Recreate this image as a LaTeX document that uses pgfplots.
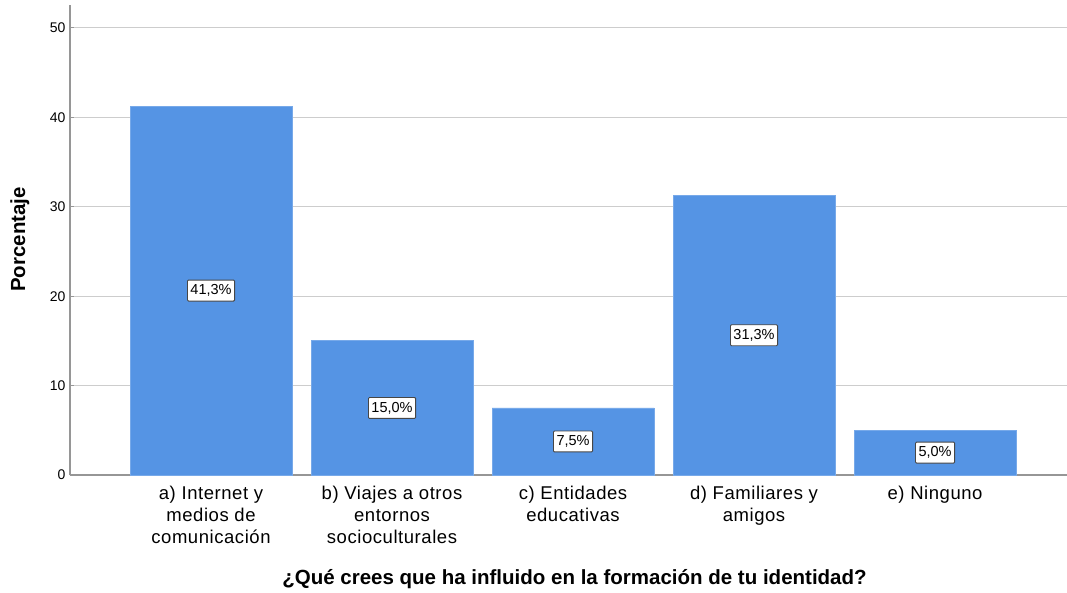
\documentclass[border=0pt]{standalone}
\usepackage{pgfplots}
\pgfplotsset{compat=1.18}
\usepackage{fontspec}
\setmainfont{Liberation Sans}
\definecolor{barblue}{RGB}{85,148,228}
\definecolor{gridgray}{RGB}{205,205,205}
\definecolor{axgray}{RGB}{150,150,150}
\definecolor{boxgray}{RGB}{70,70,70}
\begin{document}
\begin{tikzpicture}[x=1pt,y=1pt]
\useasboundingbox (-70,-117) rectangle (997,475);
\begin{axis}[
  at={(0,0)}, anchor=south west,
  scale only axis, width=997pt, height=470pt,
  xmin=-0.779, xmax=4.729, ymin=0, ymax=52.57,
  axis x line*=bottom, axis y line*=left,
  axis line style={-, draw=axgray, line width=1.4pt},
  ytick={0,10,...,50}, ymajorgrids,
  grid style={gridgray, line width=1pt},
  xtick={0,...,4},
  xticklabels={{a) Internet y\\medios de\\comunicación},{b) Viajes a otros\\entornos\\socioculturales},{c) Entidades\\educativas},{d) Familiares y\\amigos},{e) Ninguno}},
  x tick label style={align=center, font=\fontsize{18.5}{22}\selectfont\addfontfeature{LetterSpace=3}, anchor=north, yshift=-8pt},
  xtick style={draw=none},
  ytick style={draw=axgray, line width=1pt},
  major tick length=4pt,
  y tick label style={font=\fontsize{14}{16}\selectfont, xshift=-1pt},
  /pgf/number format/assume math mode=true,
  ylabel={Porcentaje},
  ylabel style={font=\bfseries\fontsize{20.4}{24}\selectfont, at={(axis description cs:-0.0502,0.501)}, anchor=center},
  xlabel={¿Qué crees que ha influido en la formación de tu identidad?},
  xlabel style={font=\bfseries\fontsize{20.5}{24}\selectfont, at={(axis description cs:0.506,-0.2319)}, anchor=base},
  clip=false,
]
\addplot[ybar, bar width=0.895, fill=barblue, draw=barblue!80!white, line width=0.8pt]
  coordinates {(0,41.25) (1,15.0) (2,7.5) (3,31.25) (4,5.0)};
\addplot[draw=none, mark=none, nodes near coords, point meta=explicit symbolic,
  every node near coord/.style={anchor=center, fill=white, draw=boxgray, line width=0.9pt,
    rounded corners=1pt, inner xsep=3pt, inner ysep=4.5pt, font=\fontsize{14.5}{16}\selectfont}]
  table[meta=lab] {
x y lab
0 20.63 41,3\%
1 7.50 15,0\%
2 3.75 7,5\%
3 15.63 31,3\%
4 2.50 5,0\%
};
\end{axis}
\end{tikzpicture}
\end{document}
